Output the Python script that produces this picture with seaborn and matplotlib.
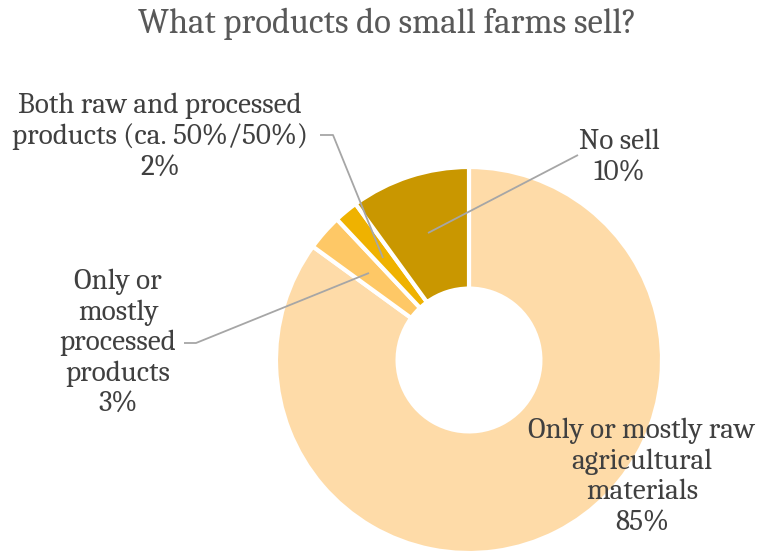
import matplotlib
matplotlib.use("Agg")
import matplotlib.pyplot as plt
import seaborn as sns

categories = ["Only or mostly raw agricultural materials",
              "Only or mostly processed products",
              "Both raw and processed products (ca. 50%/50%)",
              "No sell"]
values = [85, 3, 2, 10]
label_texts = ["Only or mostly raw\nagricultural\nmaterials\n85%",
               "Only or\nmostly\nprocessed\nproducts\n3%",
               "Both raw and processed\nproducts (ca. 50%/50%)\n2%",
               "No sell\n10%"]
colors = ["#FEDBA8", "#FEC866", "#EFB200", "#C99700"]

sns.set_theme(style="white")
plt.rcParams['font.family'] = ['Caladea', 'DejaVu Serif', 'DejaVu Sans']

W, H = 768, 552
fig = plt.figure(figsize=(W / 100, H / 100), dpi=100)
ax = fig.add_axes([0, 0, 1, 1])

def P(x, y):
    return (x, H - y)

cx, cy = P(469, 360)
R = 193
wedges, _ = ax.pie(values, colors=colors, startangle=90, counterclock=False,
                   center=(cx, cy), radius=R, frame=True,
                   wedgeprops=dict(width=R * 0.63, edgecolor='white', linewidth=3))
ax.set_xlim(0, W)
ax.set_ylim(0, H)
ax.set_aspect('equal')
ax.axis('off')

txt_color = "#404040"
line_color = "#A6A6A6"
fs = 21

# label block centers (layout)
pos = [P(642, 477), P(118, 343), P(160, 137), P(619, 157)]
for t, (x, y) in zip(label_texts, pos):
    ax.text(x, y, t, ha='center', va='center', fontsize=fs, color=txt_color,
            linespacing=1.2)

# leader lines
leaders = [
    [P(184, 343), P(196, 343), P(369, 273)],
    [P(320, 135), P(333, 135), P(383, 258)],
    [P(578, 155), P(428, 233)],
]
for pts in leaders:
    xs, ys = zip(*pts)
    ax.plot(xs, ys, color=line_color, lw=1.3, solid_capstyle='butt')

ax.text(*P(387, 24), "What products do small farms sell?", ha='center', va='center',
        fontsize=25, color="#595959")

fig.savefig("out.png", dpi=100)
